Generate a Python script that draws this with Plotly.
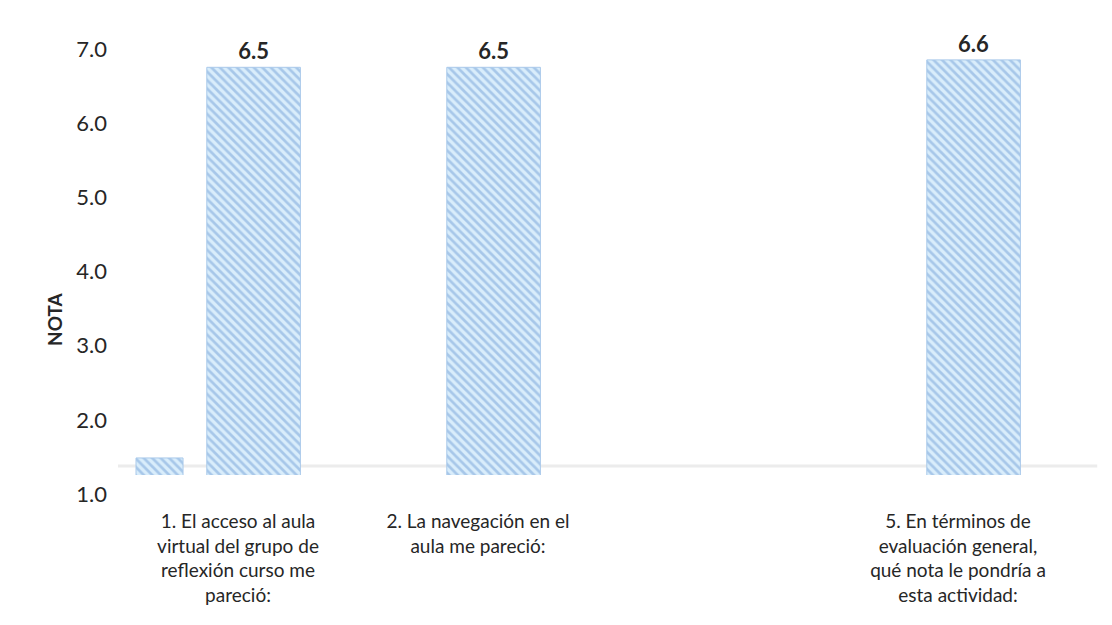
import plotly.graph_objects as go

categories = ["1. El acceso al aula<br>virtual del grupo de<br>reflexión curso me<br>pareció:",
              "2. La navegación en el<br>aula me pareció:",
              " ",
              "5. En términos de<br>evaluación general,<br>qué nota le pondría a<br>esta actividad:"]
nota = [6.5, 6.5, None, 6.6]
nota_text = ["6.5", "6.5", "", "6.6"]
extra = [1.23, None, None, None]
y_ticks = [1, 2, 3, 4, 5, 6, 7]

FONT = "Lato"
pattern = dict(shape="\\", fgcolor="#76a2d8", bgcolor="#d9edfb", size=6, solidity=0.45)
bar_line = dict(color="#a9c9ea", width=1)

fig = go.Figure()
fig.add_trace(go.Bar(
    x=categories, y=extra, width=0.196, offset=-0.425,
    marker=dict(color="#d9edfb", pattern=pattern, line=bar_line),
    hoverinfo="skip", showlegend=False))
fig.add_trace(go.Bar(
    x=categories, y=nota, width=0.39, offset=-0.13,
    text=nota_text, textposition="outside", cliponaxis=False,
    textfont=dict(family=FONT, size=22, color="#262626", weight="bold"),
    marker=dict(color="#d9edfb", pattern=pattern, line=bar_line),
    showlegend=False))

fig.add_shape(type="line", xref="paper", yref="y", x0=0, x1=1.02, y0=1.12, y1=1.12,
              line=dict(color="#ececec", width=3), layer="below")

fig.add_annotation(text="<b>NOTA</b>", textangle=-90, xref="paper", yref="y",
                   x=-0.066, y=3.1, showarrow=False, xanchor="center", yanchor="middle",
                   font=dict(family=FONT, size=19, color="#262626"))

fig.update_layout(
    width=1112, height=625,
    margin=dict(l=110, r=42, t=0, b=158, autoexpand=False),
    paper_bgcolor="white", plot_bgcolor="white",
    barmode="overlay",
    font=dict(family=FONT, color="#262626"),
    xaxis=dict(showgrid=False, showline=False, ticks="", tickangle=0, automargin=False,
               tickfont=dict(family=FONT, size=19, color="#262626"),
               ticklabelstandoff=33),
    yaxis=dict(range=[1.0, 7.3], tickvals=y_ticks, tickformat=".1f", automargin=False,
               showgrid=False, showline=False, ticks="", zeroline=False,
               tickfont=dict(family=FONT, size=22, color="#262626"),
               ticklabelshift=19, ticklabelstandoff=10),
)

fig.write_html("out.html")
